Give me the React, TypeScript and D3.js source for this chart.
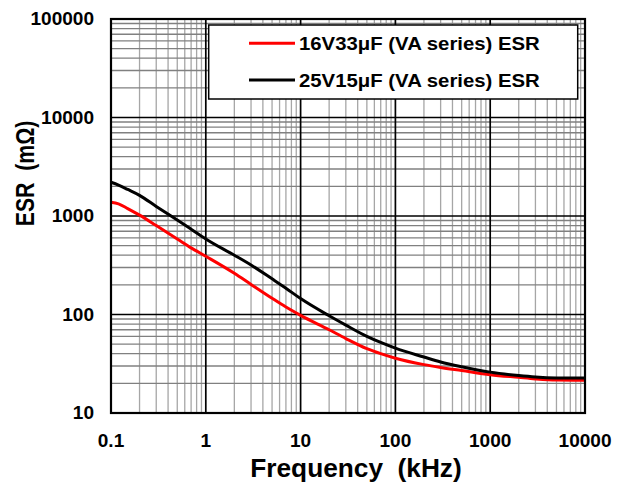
import * as d3 from 'd3';

const freqKHz = [0.1, 0.12, 0.15, 0.2, 0.3, 0.5, 0.7, 1, 2, 3, 5, 7, 10, 20, 30, 50, 70, 100, 200, 300, 500, 1000, 2000, 3000, 5000, 10000];
const esr16V33 = [1380, 1330, 1190, 1020, 800, 585, 475, 390, 262, 202, 146, 119, 98, 70, 57, 45, 40, 36, 31, 29, 27, 24.5, 23, 22.2, 21.6, 21.5];
const esr25V15 = [2200, 2060, 1860, 1620, 1250, 910, 735, 585, 400, 318, 230, 185, 145, 97, 78, 60, 52, 45.5, 37, 33, 29.5, 26, 24, 23.2, 22.7, 22.6];

const xTickValues = [0.1, 1, 10, 100, 1000, 10000];
const xTickLabels = ['0.1', '1', '10', '100', '1000', '10000'];
const yTickValues = [10, 100, 1000, 10000, 100000];
const yTickLabels = ['10', '100', '1000', '10000', '100000'];

const seriesNames = ['16V33μF (VA series) ESR', '25V15μF (VA series) ESR'];
const seriesColors = ['#ff0000', '#000000'];

const width = 624;
const height = 486;
const margin = { top: 19, right: 39, bottom: 73, left: 111 };
const font = 'Liberation Sans, Arial, sans-serif';

export default function App() {
  const x = d3
    .scaleLog()
    .domain([0.1, 10000])
    .range([margin.left, width - margin.right]);
  const y = d3
    .scaleLog()
    .domain([10, 100000])
    .range([height - margin.bottom, margin.top]);

  const isMajor = (v: number) => Math.abs(Math.log10(v) - Math.round(Math.log10(v))) < 1e-9;
  const xGrid = x.ticks();
  const yGrid = y.ticks();

  const line = d3
    .line<number>()
    .x((_, i) => x(freqKHz[i]))
    .y((d) => y(d))
    .curve(d3.curveMonotoneX);

  const series = [esr16V33, esr25V15];

  const [x0, x1] = x.range();
  const [y0, y1] = y.range();

  return (
    <svg
      width={width}
      height={height}
      style={{ position: 'absolute', left: 0, top: 0, background: '#fff' }}
      fontFamily={font}
      fontWeight="bold"
    >
      <rect width={width} height={height} fill="#fff" />

      {/* minor grid */}
      {xGrid.filter((v) => !isMajor(v)).map((v) => (
        <line key={'xm' + v} x1={x(v)} x2={x(v)} y1={y1} y2={y0} stroke="#a6a6a6" strokeWidth={1.3} />
      ))}
      {yGrid.filter((v) => !isMajor(v)).map((v) => (
        <line key={'ym' + v} x1={x0} x2={x1} y1={y(v)} y2={y(v)} stroke="#808080" strokeWidth={1.3} />
      ))}

      {/* major grid */}
      {xGrid.filter(isMajor).map((v) => (
        <line key={'xM' + v} x1={x(v)} x2={x(v)} y1={y1} y2={y0} stroke="#000" strokeWidth={1.7} />
      ))}
      {yGrid.filter(isMajor).map((v) => (
        <line key={'yM' + v} x1={x0} x2={x1} y1={y(v)} y2={y(v)} stroke="#000" strokeWidth={1.7} />
      ))}

      {/* curves */}
      {series.map((s, i) => (
        <path key={'s' + i} d={line(s) || ''} fill="none" stroke={seriesColors[i]} strokeWidth={3} strokeLinejoin="round" />
      ))}

      {/* legend */}
      <rect x={208.7} y={25} width={369} height={74} fill="#fff" stroke="#000" strokeWidth={1.5} />
      {seriesNames.map((name, i) => {
        const ly = 43.3 + i * 36.7;
        return (
          <g key={'lg' + i}>
            <line x1={249} x2={295} y1={ly} y2={ly} stroke={seriesColors[i]} strokeWidth={3} />
            <text transform={`translate(299,${ly + 6.6}) scale(1.1,1)`} fontSize={18.5} fill="#000">
              {name}
            </text>
          </g>
        );
      })}

      {/* frame */}
      <rect x={x0} y={y1} width={x1 - x0} height={y0 - y1} fill="none" stroke="#000" strokeWidth={2.2} />

      {/* tick labels */}
      {yTickValues.map((v, i) => (
        <text
          key={'yl' + v}
          transform={`translate(94,${y(v) + 6.4}) scale(1.07,1)`}
          textAnchor="end"
          fontSize={17.8}
          fill="#000"
        >
          {yTickLabels[i]}
        </text>
      ))}
      {xTickValues.map((v, i) => (
        <text
          key={'xl' + v}
          transform={`translate(${x(v)},${446.5}) scale(1.07,1)`}
          textAnchor="middle"
          fontSize={17.8}
          fill="#000"
        >
          {xTickLabels[i]}
        </text>
      ))}

      {/* axis titles */}
      <text transform="translate(356,476.5) scale(1.05,1)" textAnchor="middle" fontSize={25} fill="#000" style={{ whiteSpace: 'pre' }}>
        {'Frequency  (kHz)'}
      </text>
      <text
        transform="translate(34,173.5) rotate(-90) scale(0.85,1)"
        textAnchor="middle"
        fontSize={25}
        fill="#000"
        style={{ whiteSpace: 'pre' }}
      >
        {'ESR  (mΩ)'}
      </text>
    </svg>
  );
}
